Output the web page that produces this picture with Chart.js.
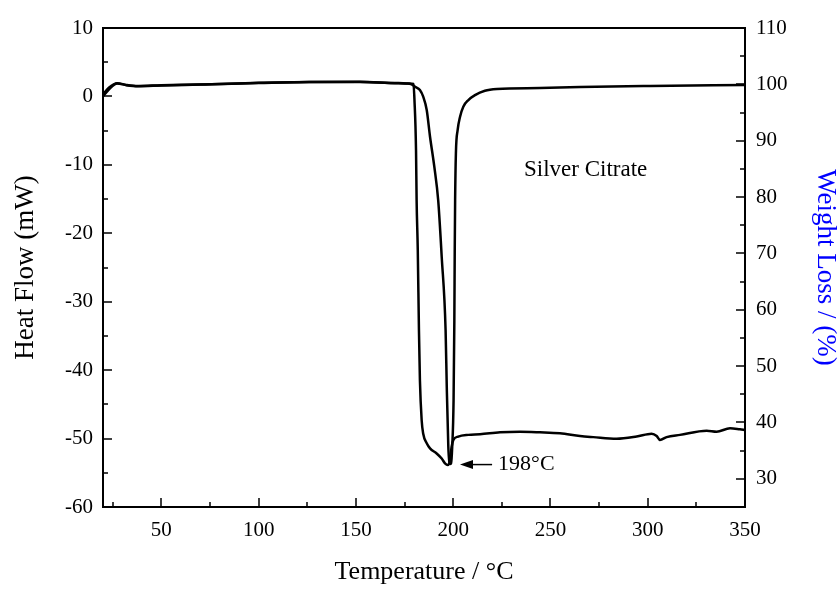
<!DOCTYPE html>
<html>
<head>
<meta charset="utf-8">
<script src="https://cdn.jsdelivr.net/npm/chart.js@4/dist/chart.umd.min.js"></script>
<style>
  html, body { margin: 0; padding: 0; background: #fff; }
</style>
</head>
<body>
<canvas id="dscChart" width="839" height="595"></canvas>
<script>
// DSC heat flow (left axis, mW)
const heatTemp = [20, 23, 27.3, 32, 38, 50, 70, 100, 126, 152,
  170, 176, 178.3, 180.4, 182.9, 184.6, 186.4, 188.1, 190.3, 192.3,
  194.1, 196.1, 196.7, 197.5, 198.0, 198.4, 198.9, 199.5, 200.2, 200.6,
  200.8, 201.0, 201.4, 202.3, 203.5, 205.2, 207.8, 211.2, 216.3, 222.5,
  244.6, 265.2, 301.2, 350];
const heatFlow = [0, 1.0, 1.9, 1.65, 1.5, 1.6, 1.74, 1.96, 2.1, 2.1,
  1.96, 1.9, 1.8, 1.42, 0.94, -0.04, -1.99, -5.89, -10.27, -15.2,
  -23.43, -34.14, -42.42, -51.19, -53.38, -53.72, -53.6, -51.2, -44.4, -32.7,
  -22.4, -15.1, -8.3, -4.9, -3.0, -1.5, -0.53, 0.2, 0.83, 1.08,
  1.23, 1.37, 1.52, 1.67];

// TGA weight (right axis, %)
const weightTemp = [20, 23, 27.3, 32, 38, 50, 70, 100, 126, 152,
  170, 177.5, 179.6, 180.1, 180.9, 181.2, 181.8, 182.4, 182.9, 183.8,
  184.6, 186.4, 188.1, 191.5, 194.1, 195.8, 197.2, 198.4, 199.2, 200.1,
  202.6, 207.8, 213.8, 224.1, 234.3, 244.6, 254.9, 265.2, 272.0, 284.0,
  294.3, 302.0, 304.6, 306.3, 309.7, 316.6, 330.3, 335.4, 342.3, 347.4,
  350];
const weightLoss = [98.2, 99.4, 100.2, 99.9, 99.7, 99.85, 99.97, 100.3, 100.4, 100.45,
  100.2, 100.15, 100.06, 97.2, 88.3, 79.5, 70.6, 56.4, 47.5, 40.4,
  38.0, 36.3, 35.4, 34.5, 33.6, 32.75, 32.45, 33.3, 35.7, 36.9,
  37.5, 37.8, 37.9, 38.25, 38.36, 38.25, 38.07, 37.6, 37.4, 37.1,
  37.5, 38.0, 37.6, 36.9, 37.4, 37.8, 38.54, 38.36, 38.96, 38.78,
  38.66];

const tempTicks = [50, 100, 150, 200, 250, 300, 350];
const heatTicks = [-60, -50, -40, -30, -20, -10, 0, 10];
const weightTicks = [30, 40, 50, 60, 70, 80, 90, 100, 110];

const sampleName = "Silver Citrate";
const peakLabel = "198°C";
const peakTemp = 198;

const serif = "'Liberation Serif', 'Times New Roman', serif";

function toPoints(xs, ys) {
  return xs.map((x, i) => ({ x: x, y: ys[i] }));
}

// box + inward ticks (major and minor)
const frameTicks = {
  id: "frameTicks",
  afterDatasetsDraw(chart) {
    const { ctx, chartArea: a, scales } = chart;
    ctx.save();
    ctx.strokeStyle = "#000";
    ctx.lineWidth = 2;
    ctx.strokeRect(a.left, a.top, a.right - a.left, a.bottom - a.top);
    ctx.lineWidth = 1.5;
    ctx.beginPath();
    for (let v = 25; v <= 350; v += 25) {
      const px = Math.round(scales.x.getPixelForValue(v));
      const len = v % 50 === 0 ? 9 : 5;
      ctx.moveTo(px, a.bottom);
      ctx.lineTo(px, a.bottom - len);
    }
    for (let v = -55; v < 10; v += 5) {
      const py = Math.round(scales.y.getPixelForValue(v));
      const len = v % 10 === 0 ? 9 : 5;
      ctx.moveTo(a.left, py);
      ctx.lineTo(a.left + len, py);
    }
    for (let v = 30; v < 110; v += 5) {
      const py = Math.round(scales.y1.getPixelForValue(v));
      const len = v % 10 === 0 ? 9 : 5;
      ctx.moveTo(a.right, py);
      ctx.lineTo(a.right - len, py);
    }
    ctx.stroke();
    ctx.restore();
  }
};

// sample name and peak marker
const notes = {
  id: "notes",
  afterDraw(chart) {
    const { ctx, scales: { x, y } } = chart;
    ctx.save();
    ctx.fillStyle = "#000";
    ctx.strokeStyle = "#000";
    ctx.textBaseline = "middle";
    ctx.font = "23px " + serif;
    ctx.fillText(sampleName, x.getPixelForValue(236.4), y.getPixelForValue(-10.8));

    const tipX = x.getPixelForValue(peakTemp + 5.5);
    const tipY = y.getPixelForValue(-53.8);
    const tailX = x.getPixelForValue(peakTemp + 22);
    ctx.lineWidth = 1.5;
    ctx.beginPath();
    ctx.moveTo(tipX + 10, tipY);
    ctx.lineTo(tailX, tipY);
    ctx.stroke();
    ctx.beginPath();
    ctx.moveTo(tipX, tipY);
    ctx.lineTo(tipX + 13, tipY - 4.5);
    ctx.lineTo(tipX + 13, tipY + 4.5);
    ctx.closePath();
    ctx.fill();
    ctx.font = "22px " + serif;
    ctx.fillText(peakLabel, tailX + 6, tipY);
    ctx.restore();
  }
};

const ctx = document.getElementById("dscChart").getContext("2d");

new Chart(ctx, {
  type: "line",
  data: {
    datasets: [
      {
        label: "Heat Flow",
        data: toPoints(heatTemp, heatFlow),
        yAxisID: "y",
        borderColor: "#000",
        borderWidth: 2.5,
        cubicInterpolationMode: "monotone",
        pointRadius: 0,
        fill: false,
      },
      {
        label: "Weight Loss",
        data: toPoints(weightTemp, weightLoss),
        yAxisID: "y1",
        borderColor: "#000",
        borderWidth: 2.5,
        cubicInterpolationMode: "monotone",
        pointRadius: 0,
        fill: false,
      },
    ],
  },
  options: {
    responsive: false,
    animation: false,
    devicePixelRatio: 1,
    layout: { padding: { top: 28, right: 0, bottom: 0, left: 0 } },
    plugins: {
      legend: { display: false },
      tooltip: { enabled: false },
    },
    scales: {
      x: {
        type: "linear",
        min: 20,
        max: 350,
        afterBuildTicks: (s) => { s.ticks = tempTicks.map((v) => ({ value: v })); },
        afterFit: (s) => { s.height = 88; },
        grid: { display: false, drawTicks: false },
        border: { display: false },
        ticks: { padding: 11, color: "#000", maxRotation: 0, autoSkip: false, font: { family: serif, size: 21 } },
        title: {
          display: true,
          text: "Temperature / °C",
          color: "#000",
          font: { family: serif, size: 26, lineHeight: 1 },
          padding: { top: 0, bottom: 10 },
        },
      },
      y: {
        position: "left",
        min: -60,
        max: 10,
        afterBuildTicks: (s) => { s.ticks = heatTicks.map((v) => ({ value: v })); },
        afterFit: (s) => { s.width = 103; },
        grid: { display: false, drawTicks: false },
        border: { display: false },
        ticks: { padding: 10, color: "#000", font: { family: serif, size: 21 } },
        title: {
          display: true,
          text: "Heat Flow (mW)",
          color: "#000",
          font: { family: serif, size: 27, lineHeight: 1 },
          padding: { top: 12, bottom: 0 },
        },
      },
      y1: {
        position: "right",
        min: 25,
        max: 110,
        afterBuildTicks: (s) => { s.ticks = weightTicks.map((v) => ({ value: v })); },
        afterFit: (s) => { s.width = 94; },
        grid: { display: false, drawTicks: false },
        border: { display: false },
        ticks: { padding: 11, color: "#000", font: { family: serif, size: 21 } },
        title: {
          display: true,
          text: "Weight Loss / (%)",
          color: "#0000ff",
          font: { family: serif, size: 27, lineHeight: 1 },
          padding: { top: 0, bottom: 0 },
        },
      },
    },
  },
  plugins: [frameTicks, notes],
});
</script>
</body>
</html>
